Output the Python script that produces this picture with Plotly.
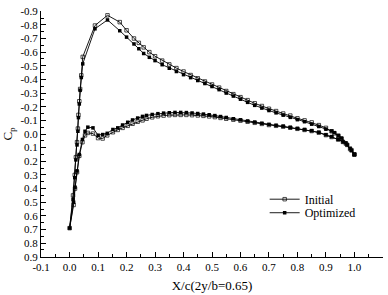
import plotly.graph_objects as go

# ---- data ----
# upper surface, trailing edge -> leading edge
up_x = [1.0, 0.985, 0.97, 0.955, 0.944, 0.93, 0.92, 0.9, 0.875, 0.85, 0.825, 0.8, 0.775, 0.75,
        0.725, 0.7, 0.675, 0.65, 0.625, 0.6, 0.575, 0.55, 0.525, 0.5, 0.475, 0.45, 0.425,
        0.4, 0.375, 0.35, 0.325, 0.3, 0.28, 0.26, 0.243, 0.226, 0.2, 0.176,
        0.133, 0.089, 0.046, 0.041, 0.037, 0.034, 0.031, 0.029, 0.026, 0.022,
        0.018, 0.012, 0.0]
up_init = [0.15, 0.11, 0.07, 0.035, 0.015, -0.005, -0.02, -0.045, -0.065, -0.085, -0.1, -0.115,
           -0.135, -0.15, -0.168, -0.185, -0.205, -0.225, -0.248, -0.27, -0.292, -0.315, -0.34,
           -0.363, -0.385, -0.408, -0.432, -0.458, -0.483, -0.51, -0.538, -0.57, -0.6, -0.635,
           -0.668, -0.7, -0.76, -0.82, -0.87, -0.795, -0.565,
           -0.43, -0.33, -0.24, -0.14, -0.04, 0.06, 0.17, 0.3, 0.45, 0.69]
up_opt = [0.15, 0.105, 0.065, 0.03, 0.01, -0.01, -0.022, -0.035, -0.055, -0.072, -0.09, -0.105,
          -0.122, -0.138, -0.155, -0.172, -0.19, -0.21, -0.232, -0.255, -0.278, -0.3, -0.325,
          -0.348, -0.37, -0.392, -0.413, -0.435, -0.458, -0.482, -0.508, -0.538, -0.562, -0.59,
          -0.625, -0.66, -0.71, -0.757, -0.836, -0.771, -0.514,
          -0.414, -0.32, -0.22, -0.12, -0.02, 0.08, 0.19, 0.32, 0.48, 0.69]
# lower surface, leading edge -> trailing edge
lo_x = [0.0, 0.014, 0.019, 0.026, 0.034, 0.045, 0.054, 0.064, 0.082, 0.1, 0.116, 0.132,
        0.152, 0.169, 0.186, 0.204, 0.221, 0.239, 0.256, 0.27, 0.29, 0.31, 0.33, 0.35, 0.37, 0.39,
        0.41, 0.43, 0.45, 0.47, 0.49, 0.51, 0.53, 0.55, 0.575, 0.6, 0.625, 0.65, 0.675, 0.7,
        0.725, 0.75, 0.775, 0.8, 0.825, 0.85, 0.875, 0.9, 0.92, 0.943, 0.96, 0.975, 0.99, 1.0]
lo_init = [0.69, 0.52, 0.4, 0.28, 0.16, 0.06, 0.01, -0.008, -0.003, 0.03, 0.033, 0.01, -0.013,
           -0.03, -0.045, -0.06, -0.075, -0.09, -0.1, -0.112, -0.122, -0.13, -0.135, -0.138,
           -0.14, -0.14, -0.14, -0.138, -0.136, -0.133, -0.129, -0.124, -0.118, -0.112, -0.105,
           -0.098, -0.09, -0.082, -0.074, -0.066, -0.06, -0.054, -0.046, -0.038, -0.03, -0.022,
           -0.01, 0.008, 0.022, 0.04, 0.058, 0.08, 0.12, 0.15]
lo_opt = [0.69, 0.5, 0.39, 0.27, 0.15, 0.04, -0.02, -0.05, -0.045, 0.009, 0.004, -0.005,
          -0.033, -0.045, -0.066, -0.086, -0.103, -0.117, -0.129, -0.136, -0.143, -0.149, -0.153,
          -0.156, -0.158, -0.158, -0.157, -0.154, -0.15, -0.146, -0.141, -0.135, -0.128, -0.121,
          -0.112, -0.104, -0.095, -0.087, -0.078, -0.07, -0.063, -0.057, -0.048, -0.04, -0.032,
          -0.024, -0.012, 0.006, 0.02, 0.04, 0.058, 0.08, 0.12, 0.15]

x_ticks = [-0.1, 0.0, 0.1, 0.2, 0.3, 0.4, 0.5, 0.6, 0.7, 0.8, 0.9, 1.0, 1.1]
x_labels = ["-0.1", "0.0", "0.1", "0.2", "0.3", "0.4", "0.5", "0.6", "0.7", "0.8", "0.9", "1.0", "1.1"]
y_ticks = [-0.9, -0.8, -0.7, -0.6, -0.5, -0.4, -0.3, -0.2, -0.1, 0.0, 0.1, 0.2, 0.3, 0.4, 0.5,
           0.6, 0.7, 0.8, 0.9]
y_labels = ["-0.9", "-0.8", "-0.7", "-0.6", "-0.5", "-0.4", "-0.3", "-0.2", "-0.1", "0.0",
            "0.1", "0.2", "0.3", "0.4", "0.5", "0.6", "0.7", "0.8", "0.9"]

FONT = "Liberation Serif, Times New Roman, serif"

fig = go.Figure()
fig.add_trace(go.Scatter(
    x=up_x + lo_x[1:], y=up_init + lo_init[1:], mode="lines+markers", name="Initial",
    line=dict(color="black", width=0.9),
    marker=dict(symbol="square-open", size=3.5, color="black", line=dict(width=0.7)),
    legend="legend",
))
fig.add_trace(go.Scatter(
    x=up_x + lo_x[1:], y=up_opt + lo_opt[1:], mode="lines+markers", name="Optimized",
    line=dict(color="black", width=0.9),
    marker=dict(symbol="square", size=3.5, color="black"),
    legend="legend2",
))

leg_common = dict(xanchor="left", yanchor="middle", bgcolor="rgba(0,0,0,0)",
                  font=dict(family=FONT, size=12), itemwidth=30, xref="paper", yref="paper")
fig.update_layout(
    width=388, height=295,
    margin=dict(l=39, r=5, t=6, b=37),
    paper_bgcolor="white", plot_bgcolor="white",
    font=dict(family=FONT, size=11, color="black"),
    showlegend=True,
    legend=dict(x=0.654, y=0.235, **leg_common),
    legend2=dict(x=0.654, y=0.18, **leg_common),
)
fig.update_xaxes(
    range=[-0.1005, 1.1005], tickvals=x_ticks, ticktext=x_labels,
    showline=True, linecolor="black", linewidth=1, mirror=False,
    ticks="inside", ticklen=5, tickcolor="black", showgrid=False, zeroline=False,
    minor=dict(dtick=0.05, tick0=0, ticks="inside", ticklen=3, tickcolor="black", showgrid=False),
    title=dict(text="X/c(2y/b=0.65)", font=dict(family=FONT, size=13), standoff=8),
)
fig.update_yaxes(
    range=[0.9015, -0.9015], tickvals=y_ticks, ticktext=y_labels,
    showline=True, linecolor="black", linewidth=1, mirror=False,
    ticks="inside", ticklen=5, tickcolor="black", showgrid=False, zeroline=False,
    minor=dict(dtick=0.05, tick0=0, ticks="inside", ticklen=3, tickcolor="black", showgrid=False),
    title=dict(text="C<sub>p</sub>", font=dict(family=FONT, size=13), standoff=6),
)

fig.write_html("out.html")
